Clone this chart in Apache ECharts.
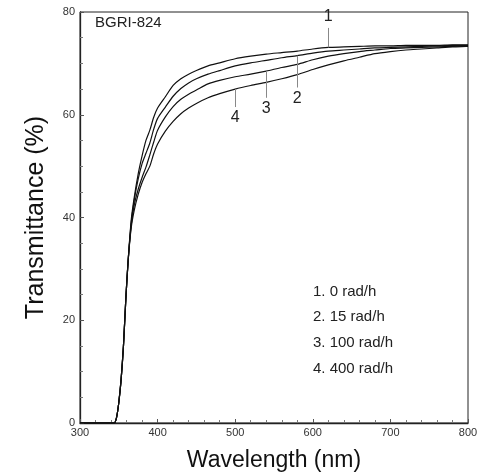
<!DOCTYPE html>
<html><head><meta charset="utf-8">
<script src="https://cdn.jsdelivr.net/npm/echarts@6/dist/echarts.min.js"></script>
<style>html,body{margin:0;padding:0;background:#fff}#c{width:489px;height:472px}</style>
</head><body><div id="c"></div>
<script>
const wavelengths = [300,340,344,347,350,353,356,359,362,366,370,375,380,385,390,395,400,410,420,430,440,450,465,480,500,520,540,560,580,600,620,640,660,680,700,720,740,760,780,800];
const curve1 = [0,0,0,1,4,8.5,15,24,31.5,39.5,44,48.5,52,55,57,59.5,61.3,63.5,65.7,67.0,67.9,68.6,69.5,70.1,70.9,71.4,71.8,72.1,72.4,72.8,73.1,73.2,73.3,73.4,73.4,73.5,73.5,73.5,73.6,73.6];
const curve2 = [0,0,0,1,4,8.5,15,24,31.5,39,43.5,47.5,50.5,52.5,54.5,57.2,59.3,61.5,63.6,65.1,66.2,67.0,67.9,68.6,69.5,70.1,70.6,71.1,71.5,72.0,72.4,72.6,72.8,73.0,73.1,73.2,73.3,73.4,73.5,73.5];
const curve3 = [0,0,0,1,4,8.5,15,24,31.5,38.5,42.5,45.5,47.8,49.8,52.2,54.7,57,59.6,61.6,63.0,64.0,64.8,66.0,66.7,67.4,67.9,68.5,69.2,69.8,70.7,71.4,71.9,72.3,72.6,72.9,73.0,73.1,73.2,73.3,73.4];
const curve4 = [0,0,0,1,4,8.5,15,24,31.5,38,41.5,44.5,46.8,48.5,50,52.4,54.3,56.8,58.7,60.2,61.3,62.2,63.3,64.1,65.0,65.7,66.3,67.0,67.8,68.8,69.7,70.5,71.2,71.9,72.3,72.6,72.8,73.0,73.2,73.3];
const curveNames = ['1','2','3','4'];
const legendLines = ['1. 0 rad/h','2. 15 rad/h','3. 100 rad/h','4. 400 rad/h'];
const sampleName = 'BGRI-824';
// leader lines: [wavelength, start T (on curve), end T]
const leaders = [[620,73.1,76.9],[580,71.5,65.3],[540,68.5,63.3],[500,65.0,61.5]];

const chart = echarts.init(document.getElementById('c'));
const all = [curve1,curve2,curve3,curve4];
const series = all.map((vals,i)=>({
  type:'line', name:curveNames[i], showSymbol:false, symbol:'none',
  data: wavelengths.map((w,j)=>[w,vals[j]]),
  lineStyle:{color:'#111',width:1.2}, smooth:0.25, animation:false,
  markLine:{symbol:'none', silent:true, animation:false,
    lineStyle:{color:'#888',width:1,type:'solid'},
    label:{show:true, position:'end', formatter:curveNames[i], color:'#222', fontSize:16, fontFamily:'Liberation Sans', distance:3},
    data:[[{coord:[leaders[i][0],leaders[i][1]]},{coord:[leaders[i][0],leaders[i][2]]}]]}
}));
chart.setOption({
  animation:false,
  backgroundColor:'#fff',
  grid:{left:80,right:21,top:12,bottom:49,show:true,borderColor:'#222',borderWidth:1,outerBoundsMode:'none',containLabel:false},
  title:{text:sampleName,left:90,top:10,textStyle:{fontSize:15,fontWeight:'normal',color:'#222',fontFamily:'Liberation Sans'}},
  graphic:legendLines.map((t,i)=>({type:'text',left:313,top:284+i*25.7,style:{text:t,fontSize:15,fill:'#222',fontFamily:'Liberation Sans'}})),
  xAxis:{type:'value',min:300,max:800,interval:100,
    name:'Wavelength (nm)',nameLocation:'middle',nameGap:26,
    nameTextStyle:{fontSize:23,color:'#111',fontFamily:'Liberation Sans'},
    axisLine:{lineStyle:{color:'#222',width:1.3}},
    axisTick:{inside:true,length:4,lineStyle:{color:'#555'}},
    minorTick:{show:true,splitNumber:5,length:3,lineStyle:{color:'#777'}},
    axisLabel:{fontSize:11,color:'#333',margin:4,fontFamily:'Liberation Sans'},
    splitLine:{show:false}},
  yAxis:{type:'value',min:0,max:80,interval:20,
    name:'Transmittance (%)',nameLocation:'middle',nameGap:31,
    nameTextStyle:{fontSize:25,color:'#111',fontFamily:'Liberation Sans'},
    axisLine:{show:true,lineStyle:{color:'#222',width:1.3}},
    axisTick:{show:true,inside:true,length:4,lineStyle:{color:'#555'}},
    minorTick:{show:true,splitNumber:4,length:3,lineStyle:{color:'#777'}},
    axisLabel:{fontSize:11,color:'#333',margin:5,fontFamily:'Liberation Sans'},
    splitLine:{show:false}},
  series:series
});
</script></body></html>
